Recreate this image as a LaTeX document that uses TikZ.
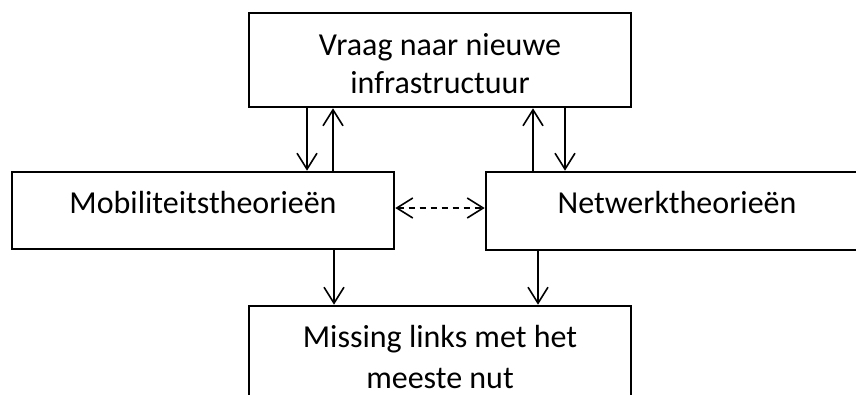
\documentclass[tikz,border=0pt]{standalone}
\usepackage{fontspec}
\setmainfont{Carlito}
\usetikzlibrary{arrows.meta}
\begin{document}
\begin{tikzpicture}[x=1pt,y=-1pt,
  box/.style={draw, line width=2.6pt, minimum width=382pt, inner sep=0pt},
  lbl/.style={font=\fontsize{32}{38}\selectfont, align=center, inner sep=0pt, anchor=base},
  arr/.style={line width=1.6pt, -{Straight Barb[length=16pt,width=20pt,line width=1.6pt]}},
  darr/.style={line width=1.6pt, dash pattern=on 6pt off 5pt,
    {Straight Barb[length=16pt,width=20pt,line width=1.6pt]}-{Straight Barb[length=16pt,width=20pt,line width=1.6pt]}}]
  \useasboundingbox (0,0) rectangle (856,394);
  \clip (0,0) rectangle (856,394);
  % boxes
  \node[box, minimum height=94pt] (top) at (440,60) {};
  \node[box, minimum height=77pt] (mob) at (203,210.5) {};
  \node[box, minimum height=78pt] (net) at (677,211) {};
  \node[box, minimum height=96pt] (miss) at (440,354) {};
  % labels (a multi-line label sits on the baseline of its last line)
  \node[lbl] (ttop) at (440,93) {Vraag naar nieuwe\\infrastructuur};
  \node[lbl] (tmob) at (203,213) {Mobiliteitstheorieën};
  \node[lbl] (tnet) at (677,213) {Netwerktheorieën};
  \node[lbl, font=\fontsize{32}{41}\selectfont] (tmiss) at (440,388) {Missing links met het\\meeste nut};
  % connectors between the top box and the two theory boxes
  \draw[arr] ([xshift=-133pt]top.south) -- ([xshift=-133pt]top.south |- mob.north);
  \draw[arr] ([xshift=-107pt]top.south |- mob.north) -- ([xshift=-107pt]top.south);
  \draw[arr] ([xshift=93pt]top.south |- net.north) -- ([xshift=93pt]top.south);
  \draw[arr] ([xshift=125pt]top.south) -- ([xshift=125pt]top.south |- net.north);
  % theories to missing links
  \draw[arr] ([xshift=131pt]mob.south) -- ([xshift=131pt]mob.south |- miss.north);
  \draw[arr] ([xshift=-139pt]net.south) -- ([xshift=-139pt]net.south |- miss.north);
  % dashed link between the theories
  \draw[darr] ([yshift=2.5pt]mob.east) -- ([yshift=2.5pt]mob.east -| net.west);
\end{tikzpicture}
\end{document}
